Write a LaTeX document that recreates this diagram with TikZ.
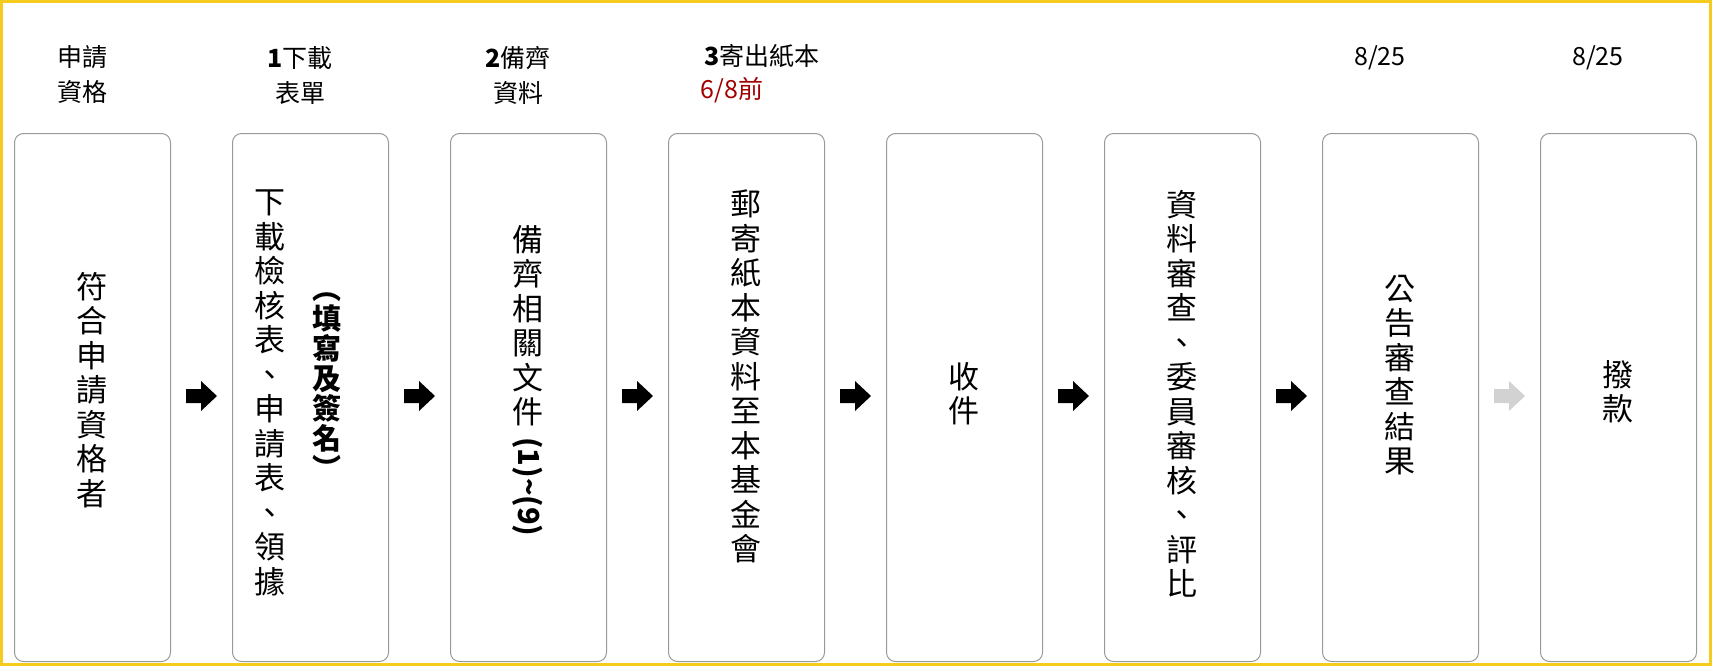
\documentclass[tikz,border=0pt]{standalone}
\usepackage{fontspec}
\setmainfont{Noto Sans CJK TC}
\definecolor{yel}{HTML}{F5CC1E}
\definecolor{dred}{HTML}{A00000}
\tikzset{
 box/.style={draw=gray!80,line width=1pt,rounded corners=9pt,minimum width=156pt,minimum height=528pt,anchor=north west},
 vt/.style={font=\fontsize{31}{34.5}\selectfont,align=center,inner sep=0pt,anchor=north},
 lab/.style={font=\fontsize{25}{35}\selectfont,align=center,inner sep=0pt},
 arrfill/.style={fill=black}
}
\newcommand{\blockarrow}[2][black]{\fill[#1] ($(#2)+(-15,-7)$) -- ++(15,0) -- ++(0,-8) -- ++(16,15) -- ++(-16,15) -- ++(0,-8) -- ++(-15,0) -- cycle;}
\usetikzlibrary{calc}
\begin{document}
\begin{tikzpicture}[x=1pt,y=-1pt]
\useasboundingbox (0,0) rectangle (1712,666);
\draw[yel,line width=3pt] (1.5,1.5) rectangle (1710.5,664.5);
\foreach \i in {0,...,7}{\node[box] (b\i) at (14+\i*218,133) {};}
% top labels
\node[lab] (l0) at (82,75) {申請\\資格};
\node[lab] (l1) at (300,75) {\textbf{1}下載\\表單};
\node[lab] (l2) at (518,75) {\textbf{2}備齊\\資料};
\node[lab] (l3) at (762,56) {\textbf{3}寄出紙本};
\node[lab,text=dred] (l3b) at (732,90) {6/8前};
\node[lab] (l6) at (1380,58) {8/25};
\node[lab] (l7) at (1598,58) {8/25};
% box texts
\node[vt] (t0) at (92,272) {符\\合\\申\\請\\資\\格\\者};
\node[vt] (t1a) at (270,190) {下\\載\\檢\\核\\表\\、\\申\\請\\表\\、\\領\\據};
\node[vt,font=\fontsize{29}{30}\selectfont\bfseries] (t1b) at (327,292) {︵\\填\\寫\\及\\簽\\名\\︶};
\node[vt] (t2) at (528,225) {備\\齊\\相\\關\\文\\件};
\node[vt,rotate=-90,anchor=west,font=\fontsize{29}{36}\selectfont\bfseries] (t2b) at (528,437) {(1)\textasciitilde(9)};
\node[vt] (t3) at (746,190) {郵\\寄\\紙\\本\\資\\料\\至\\本\\基\\金\\會};
\node[vt] (t4) at (964,362) {收\\件};
\node[vt] (t5) at (1182,190) {資\\料\\審\\查\\、\\委\\員\\審\\核\\、\\評\\比};
\node[vt] (t6) at (1400,275) {公\\告\\審\\查\\結\\果};
\node[vt] (t7) at (1618,360) {撥\\款};
% arrows
\foreach \i in {0,...,6}{\coordinate (a\i) at (201+\i*218,396);}
\foreach \i in {0,...,5}{\blockarrow{a\i}}
\blockarrow[gray!35]{a6}
\end{tikzpicture}
\end{document}
